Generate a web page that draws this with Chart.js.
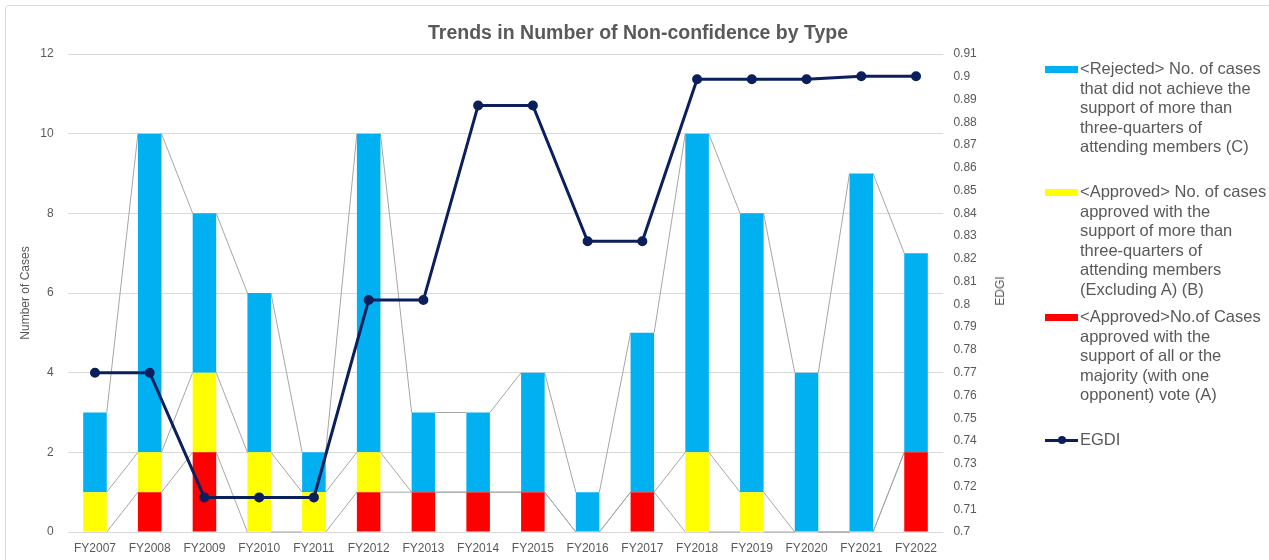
<!DOCTYPE html>
<html>
<head>
<meta charset="utf-8">
<script src="https://cdn.jsdelivr.net/npm/chart.js@4.4.1/dist/chart.umd.min.js"></script>
<style>
  body { margin: 0; background: #fff; font-family: "Liberation Sans", Arial, sans-serif; }
  #wrap { position: relative; width: 1269px; height: 560px; overflow: hidden; }
  #frame { position: absolute; left: 5px; top: 5px; width: 1300px; height: 600px; border: 1px solid #d9d9d9; border-radius: 4px; }
  #title { position: absolute; left: 0; width: 1276px; top: 21px; text-align: center; font-weight: bold; font-size: 19.5px; color: #595959; }
  #y1title { position: absolute; left: 1000px; top: 291px; transform: translate(-50%, -50%) rotate(-90deg); font-size: 12px; color: #595959; }
  .leg { position: absolute; left: 1045px; }
  .leg .sw { position: absolute; left: 0; width: 33px; height: 7px; }
  .leg .txt { position: absolute; left: 35px; top: -10px; font-size: 16.5px; line-height: 19.6px; color: #595959; white-space: nowrap; }
  canvas { position: absolute; left: 0; top: 0; }
</style>
</head>
<body>
<div id="wrap">
  <div id="frame"></div>
  <canvas id="chart" width="1269" height="560"></canvas>
  <div id="title">Trends in Number of Non-confidence by Type</div>
  <div id="y1title">EDGI</div>
  <div id="legend"></div>
</div>
<script>
// Data
const years = ['FY2007','FY2008','FY2009','FY2010','FY2011','FY2012','FY2013','FY2014',
               'FY2015','FY2016','FY2017','FY2018','FY2019','FY2020','FY2021','FY2022'];
// (A) approved by all / majority with one opponent
const casesA = [0,1,2,0,0,1,1,1,1,0,1,0,0,0,0,2];
// (B) approved with more than three-quarters support (excluding A)
const casesB = [1,1,2,2,1,1,0,0,0,0,0,2,1,0,0,0];
// (C) rejected
const casesC = [2,8,4,4,1,8,2,2,3,1,4,8,7,4,9,5];
const egdi = [0.77,0.77,0.7152,0.7152,0.7152,0.8019,0.8019,0.8874,0.8874,0.8277,0.8277,
              0.8989,0.8989,0.8989,0.9002,0.9002];

const legendC = ['<Rejected> No. of cases','that did not achieve the','support of more than','three-quarters of','attending members  (C)'];
const legendB = ['<Approved> No. of cases','approved with the','support of more than','three-quarters of','attending members','(Excluding A) (B)'];
const legendA = ['<Approved>No.of Cases','approved with the','support of all or the','majority (with one','opponent) vote (A)'];
const legendE = ['EGDI'];

const colors = { A: '#ff0000', B: '#ffff00', C: '#00b0f0', egdi: '#0b1f5c', grid: '#d9d9d9', text: '#595959', series: '#a6a6a6' };

// Excel-style series lines between stacked segment tops
const seriesLines = {
    id: 'seriesLines',
    beforeDatasetsDraw(chart) {
        const ctx = chart.ctx;
        const y = chart.scales.y;
        let cum = years.map(() => 0);
        ctx.save();
        ctx.strokeStyle = colors.series;
        ctx.lineWidth = 1;
        chart.data.datasets.forEach((ds, di) => {
            if (ds.type === 'line') return;
            const meta = chart.getDatasetMeta(di);
            cum = cum.map((c, k) => c + ds.data[k]);
            for (let k = 0; k < years.length - 1; k++) {
                const b1 = meta.data[k], b2 = meta.data[k + 1];
                ctx.beginPath();
                ctx.moveTo(b1.x + b1.width / 2, y.getPixelForValue(cum[k]));
                ctx.lineTo(b2.x - b2.width / 2, y.getPixelForValue(cum[k + 1]));
                ctx.stroke();
            }
        });
        ctx.restore();
    }
};

const tickFont = { family: '"Liberation Sans", Arial, sans-serif', size: 12 };

const chart = new Chart(document.getElementById('chart').getContext('2d'), {
    data: {
        labels: years,
        datasets: [
            { type: 'line', label: 'EGDI', data: egdi, yAxisID: 'y1', order: 0,
              borderColor: colors.egdi, backgroundColor: colors.egdi, borderWidth: 3,
              pointRadius: 3.5, pointBackgroundColor: colors.egdi, tension: 0 },
            { type: 'bar', label: legendA.join(' '), data: casesA, backgroundColor: colors.A, order: 1,
              categoryPercentage: 1, barPercentage: 0.43 },
            { type: 'bar', label: legendB.join(' '), data: casesB, backgroundColor: colors.B, order: 1,
              categoryPercentage: 1, barPercentage: 0.43 },
            { type: 'bar', label: legendC.join(' '), data: casesC, backgroundColor: colors.C, order: 1,
              categoryPercentage: 1, barPercentage: 0.43 }
        ]
    },
    options: {
        responsive: false,
        animation: false,
        layout: { padding: { top: 54, bottom: 6, left: 0, right: 0 } },
        plugins: {
            legend: { display: false },
            title: { display: false },
            tooltip: { enabled: false }
        },
        scales: {
            x: {
                stacked: true,
                grid: { display: false },
                border: { display: false },
                ticks: { color: colors.text, font: tickFont, padding: 1, maxRotation: 0 },
                afterFit(s) { s.height = 22; }
            },
            y: {
                stacked: true,
                min: 0, max: 12,
                grid: { color: colors.grid, drawTicks: false },
                border: { display: false },
                ticks: { stepSize: 2, color: colors.text, font: tickFont, padding: 14 },
                title: { display: true, text: 'Number of Cases', color: colors.text, font: tickFont, padding: { top: 18, bottom: 0 } },
                afterFit(s) { s.width = 67.6; }
            },
            y1: {
                position: 'right',
                min: 0.7, max: 0.91,
                grid: { display: false, drawTicks: false },
                border: { display: false },
                ticks: { stepSize: 0.01, color: colors.text, font: tickFont, padding: 10,
                         callback: v => String(+v.toFixed(2)) },
                afterFit(s) { s.width = 325.6; }
            }
        }
    },
    plugins: [seriesLines]
});

// HTML legend (wrapped lines as in the original)
const legendItems = [
    { lines: legendC, color: colors.C, top: 69 },
    { lines: legendB, color: colors.B, top: 192 },
    { lines: legendA, color: colors.A, top: 317 },
    { lines: legendE, color: colors.egdi, top: 440, line: true }
];
const legendEl = document.getElementById('legend');
legendItems.forEach(item => {
    const d = document.createElement('div');
    d.className = 'leg';
    d.style.top = item.top + 'px';
    let sw;
    if (item.line) {
        sw = `<div class="sw" style="top:-1.5px;height:3px;background:${item.color}"></div>` +
             `<div class="sw" style="left:13px;top:-4px;width:8px;height:8px;border-radius:50%;background:${item.color}"></div>`;
    } else {
        sw = `<div class="sw" style="top:-3.5px;background:${item.color}"></div>`;
    }
    const txt = document.createElement('div');
    txt.className = 'txt';
    item.lines.forEach((l, i) => {
        if (i) txt.appendChild(document.createElement('br'));
        txt.appendChild(document.createTextNode(l));
    });
    d.innerHTML = sw;
    d.appendChild(txt);
    legendEl.appendChild(d);
});
</script>
</body>
</html>
